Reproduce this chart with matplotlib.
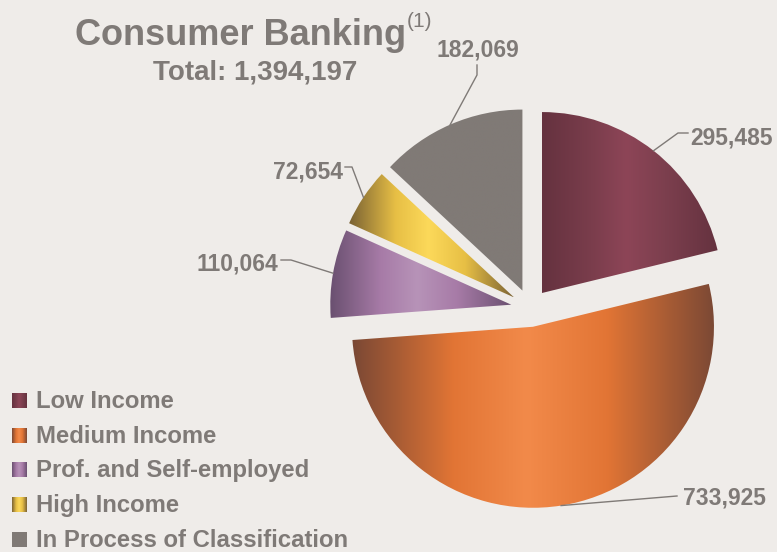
import numpy as np
import matplotlib.pyplot as plt
from matplotlib.colors import LinearSegmentedColormap

labels = ['Low Income', 'Medium Income', 'Prof. and Self-employed',
          'High Income', 'In Process of Classification']
values = [295485, 733925, 110064, 72654, 182069]
value_labels = ['295,485', '733,925', '110,064', '72,654', '182,069']
total_label = 'Total: 1,394,197'

# dark -> mid -> light -> mid -> dark, across each slice
shades = [
    ['#65323f', '#7a3d4c', '#8d4557', '#7c3f4e', '#65323f'],
    ['#7a4834', '#e27535', '#f28a4a', '#e27535', '#7a4834'],
    ['#6a5070', '#a77ba7', '#b793b8', '#a77ba7', '#6a5070'],
    ['#7a6234', '#e7bf45', '#fcd95a', '#e7bf45', '#7a6234'],
    ['#807a76', '#807a76', '#807a76', '#807a76', '#807a76'],
]
stops = [0.0, 0.28, 0.48, 0.7, 1.0]

W, H = 777, 552
txt = '#7f7a77'
bg = '#efece9'


def py(y):
    # pixel row (from top) -> data y
    return H - y


fig = plt.figure(figsize=(W / 100, H / 100), dpi=100, facecolor=bg)
ax = fig.add_axes([0, 0, 1, 1])
ax.set_facecolor(bg)

radius = 181
gap = 0.105 * radius
wedges, _ = ax.pie(values, startangle=90, counterclock=False,
                   explode=[gap] * len(values), radius=radius,
                   center=(530, py(308)), frame=True)

grad = np.linspace(0, 1, 256).reshape(1, -1)
for w, sh in zip(wedges, shades):
    cmap = LinearSegmentedColormap.from_list('s', list(zip(stops, sh)))
    v = w.get_path().vertices
    im = ax.imshow(grad, cmap=cmap, aspect='auto', interpolation='bilinear',
                   extent=(v[:, 0].min(), v[:, 0].max(), v[:, 1].min(), v[:, 1].max()),
                   zorder=2)
    im.set_clip_path(w)
    w.set_facecolor('none')
    w.set_edgecolor('none')

# leader lines: from the slice arc at its mid angle, through elbows to the text
elbows = [
    [(678, 133), (688, 133)],
    [(677, 496)],
    [(291, 260), (281, 260)],
    [(352, 167), (345, 167)],
    [(477, 75), (477, 65)],
]
text_pos = [(690, 145, 'left'), (683, 505, 'left'), (278, 270, 'right'),
            (343, 178, 'right'), (478, 57, 'center')]
for w, pts, (tx, ty, ha), lab in zip(wedges, elbows, text_pos, value_labels):
    th = np.deg2rad((w.theta1 + w.theta2) / 2)
    x0 = w.center[0] + w.r * np.cos(th)
    y0 = w.center[1] + w.r * np.sin(th)
    xs = [x0] + [p[0] for p in pts]
    ys = [y0] + [py(p[1]) for p in pts]
    ax.plot(xs, ys, color=txt, lw=1, zorder=3)
    ax.text(tx, py(ty), lab, ha=ha, va='baseline', fontsize=16.5,
            fontweight='bold', color=txt, family='Liberation Sans')

# title
ax.text(241, py(45), 'Consumer Banking', ha='center', va='baseline',
        fontsize=26, fontweight='bold', color=txt, family='Liberation Sans')
ax.text(407, py(27), '(1)', ha='left', va='baseline', fontsize=15,
        color=txt, family='Liberation Sans')
ax.text(255, py(80), total_label, ha='center', va='baseline',
        fontsize=20, fontweight='bold', color=txt, family='Liberation Sans')

# legend
for i, (lab, sh) in enumerate(zip(labels, shades)):
    base = 408 + i * 34.75
    cmap = LinearSegmentedColormap.from_list('l', list(zip(stops, sh)))
    ax.imshow(grad, cmap=cmap, aspect='auto', interpolation='bilinear',
              extent=(12, 27, py(base), py(base - 15)), zorder=2)
    ax.text(36, py(base), lab, ha='left', va='baseline', fontsize=17.2,
            fontweight='bold', color=txt, family='Liberation Sans')

ax.set_xlim(0, W)
ax.set_ylim(0, H)
ax.set_aspect('auto')
ax.axis('off')

fig.savefig('out.png', dpi=100, facecolor=bg)
